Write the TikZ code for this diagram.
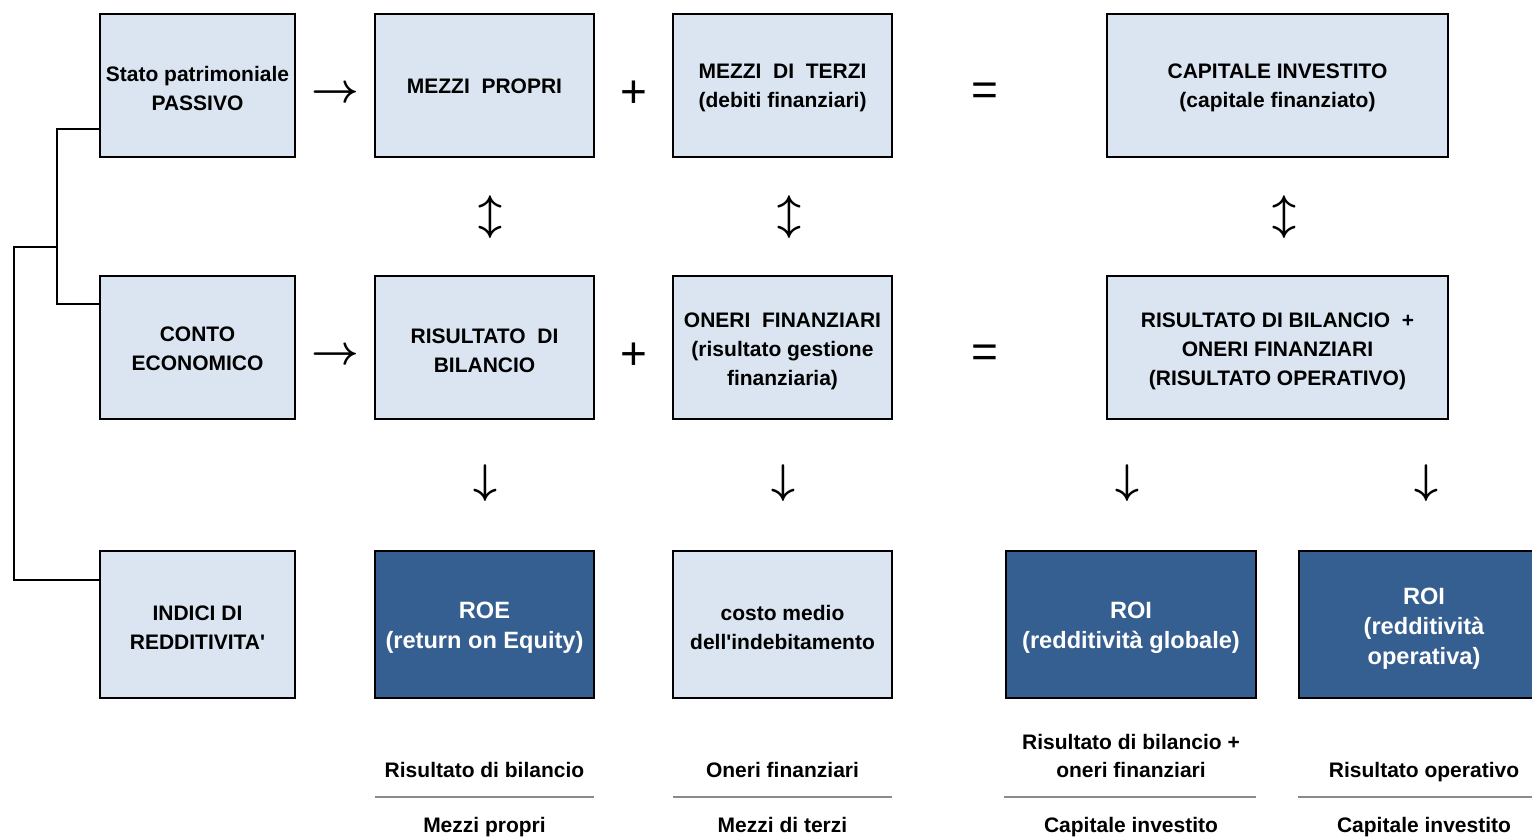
\documentclass[tikz,border=0pt]{standalone}
\usepackage{fontspec}
\setmainfont{Liberation Sans}[Ligatures=TeXOff]
\usetikzlibrary{calc}
\definecolor{boxlight}{HTML}{DBE5F1}
\definecolor{boxdark}{HTML}{365F91}
\definecolor{ruleline}{HTML}{8A8A8A}
\begin{document}
\begin{tikzpicture}[x=0.5pt,y=-0.5pt,
  lbox/.style={draw=black,line width=1pt,fill=boxlight,inner sep=0pt},
  dbox/.style={draw=black,line width=1pt,fill=boxdark,inner sep=0pt},
  wide/.style={minimum width=#1*0.5pt},
  tall/.style={minimum height=#1*0.5pt},
  ltext/.style={align=center,inner sep=0pt,yshift=-1.4pt,
    font=\bfseries\fontsize{10.5}{14.5}\selectfont},
  dtext/.style={align=center,inner sep=0pt,yshift=-1.5pt,text=white,
    font=\bfseries\fontsize{11.8}{15}\selectfont},
  sym/.style={inner sep=0pt,font=\boldmath\fontsize{20}{24}\selectfont},
  opsym/.style={inner sep=0pt,font=\fontsize{23}{26}\selectfont},
  ftext/.style={inner sep=0pt,anchor=base,align=center,font=\bfseries\fontsize{10.5}{14}\selectfont},
  fline/.style={draw=ruleline,line width=1pt},
  link/.style={draw=black,line width=0.8pt}]
\useasboundingbox (0,0) rectangle (1532,836);
\clip (0,0) rectangle (1532,836);

% first row: liabilities
\node[lbox,wide=195,tall=143] (sp) at (197.5,85.5) {};
\node[ltext] (sp-t) at (sp.center) {Stato patrimoniale\\PASSIVO};
\node[lbox,wide=219,tall=143] (mp) at (484.5,85.5) {};
\node[ltext,yshift=0.8pt] (mp-t) at (mp.center) {MEZZI\ \ PROPRI};
\node[lbox,wide=219,tall=143] (mt) at (782.5,85.5) {};
\node[ltext] (mt-t) at (mt.center) {MEZZI\ \ DI\ \ TERZI\\(debiti finanziari)};
\node[lbox,wide=341,tall=143] (ci) at (1277.5,85.5) {};
\node[ltext] (ci-t) at (ci.center) {CAPITALE INVESTITO\\(capitale finanziato)};

% second row: income statement
\node[lbox,wide=195,tall=143] (ce) at (197.5,347.5) {};
\node[ltext,yshift=0.6pt] (ce-t) at (ce.center) {CONTO\\ECONOMICO};
\node[lbox,wide=219,tall=143] (rb) at (484.5,347.5) {};
\node[ltext] (rb-t) at (rb.center) {RISULTATO\ \ DI\\BILANCIO};
\node[lbox,wide=219,tall=143] (of) at (782.5,347.5) {};
\node[ltext,yshift=-0.5pt] (of-t) at (of.center) {ONERI\ \ FINANZIARI\\(risultato gestione\\finanziaria)};
\node[lbox,wide=341,tall=143] (ro) at (1277.5,347.5) {};
\node[ltext,yshift=-0.5pt] (ro-t) at (ro.center) {RISULTATO DI BILANCIO\ \ +\\ONERI FINANZIARI\\(RISULTATO OPERATIVO)};

% third row: ratios
\node[lbox,wide=195,tall=147] (ind) at (197.5,624.5) {};
\node[ltext] (ind-t) at (ind.center) {INDICI DI\\REDDITIVITA'};
\node[dbox,wide=219,tall=147] (roe) at (484.5,624.5) {};
\node[dtext] (roe-t) at (roe.center) {ROE\\(return on Equity)};
\node[lbox,wide=219,tall=147] (cm) at (782.5,624.5) {};
\node[ltext] (cm-t) at (cm.center) {costo medio\\dell'indebitamento};
\node[dbox,wide=250,tall=147] (roig) at (1131,624.5) {};
\node[dtext] (roig-t) at (roig.center) {ROI\\(redditività globale)};
\node[dbox,wide=250,tall=147] (roio) at (1424,624.5) {};
\node[dtext,yshift=-0.5pt] (roio-t) at (roio.center) {ROI\\(redditività\\operativa)};

% operators between the boxes
\node[sym] (a1) at (335.5,94) {$\rightarrow$};
\node[sym] (a2) at (335.5,356) {$\rightarrow$};
\node[opsym] (p1) at (633.5,94) {+};
\node[opsym] (p2) at (633.5,356) {+};
\node[opsym] (e1) at (985,94) {=};
\node[opsym] (e2) at (985,356) {=};
\node[sym] (u1) at (490,217) {$\updownarrow$};
\node[sym] (u2) at (789,217) {$\updownarrow$};
\node[sym] (u3) at (1284,217) {$\updownarrow$};
\node[sym] (d1) at (485,483) {$\downarrow$};
\node[sym] (d2) at (783,483) {$\downarrow$};
\node[sym] (d3) at (1127,483) {$\downarrow$};
\node[sym] (d4) at (1426,483) {$\downarrow$};

% bracket joining the three left boxes
\coordinate (spA) at ($(sp.south west)!0.2!(sp.north west)$);
\coordinate (ceA) at ($(ce.south west)!0.8!(ce.north west)$);
\coordinate (inA) at ($(ind.south west)!0.8!(ind.north west)$);
\coordinate (bx1) at (57,0);
\coordinate (bx2) at (14,0);
\coordinate (mid) at (57,247);
\draw[link] (spA) -- (spA -| bx1) -- (ceA -| bx1) -- (ceA);
\draw[link] (mid) -- (mid -| bx2) -- (inA -| bx2) -- (inA);

% formulas of the ratios
\node[ftext] (n1) at (484.5,777.5) {Risultato di bilancio};
\node[ftext] (n2) at (782.5,777.5) {Oneri finanziari};
\node[ftext] (n3) at (1131,777.5) {Risultato di bilancio +\\oneri finanziari};
\node[ftext] (n4) at (1424,777.5) {Risultato operativo};
\coordinate (f1a) at (375,797); \coordinate (f1b) at (594,797);
\coordinate (f2a) at (673,797); \coordinate (f2b) at (892,797);
\coordinate (f3a) at (1004,797); \coordinate (f3b) at (1256,797);
\coordinate (f4a) at (1298,797); \coordinate (f4b) at (1540,797);
\draw[fline] (f1a) -- (f1b);
\draw[fline] (f2a) -- (f2b);
\draw[fline] (f3a) -- (f3b);
\draw[fline] (f4a) -- (f4b);
\node[ftext] (q1) at (484.5,832.5) {Mezzi propri};
\node[ftext] (q2) at (782.5,832.5) {Mezzi di terzi};
\node[ftext] (q3) at (1131,832.5) {Capitale investito};
\node[ftext] (q4) at (1424,832.5) {Capitale investito};
\end{tikzpicture}
\end{document}
